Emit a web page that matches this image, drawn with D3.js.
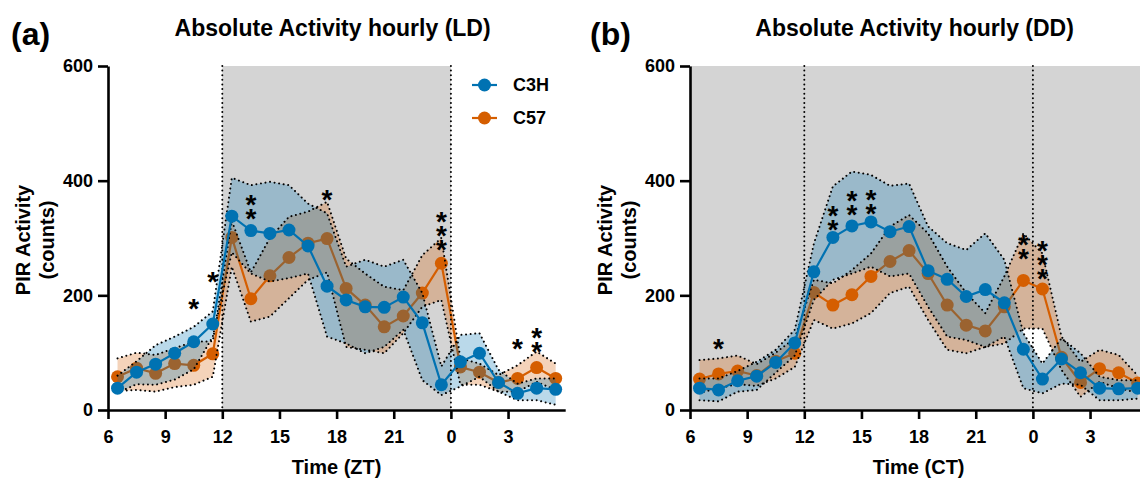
<!DOCTYPE html>
<html><head><meta charset="utf-8">
<script src="https://cdn.jsdelivr.net/npm/d3@7"></script>
<style>
body{margin:0;background:#fff}
svg text{font-family:"Liberation Sans",Arial,Helvetica,sans-serif;font-weight:bold;fill:#000}
</style>
</head><body>
<svg id="chart" width="1140" height="479"></svg>
<script>
// ---------------- data ----------------
const hours = [6.5,7.5,8.5,9.5,10.5,11.5,12.5,13.5,14.5,15.5,16.5,17.5,18.5,19.5,20.5,21.5,22.5,23.5,24.5,25.5,26.5,27.5,28.5,29.5];
const xTickValues = [6,9,12,15,18,21,24,27];
const xTickLabels = ["6","9","12","15","18","21","0","3"];
const yTickValues = [0,200,400,600];
const seriesNames = ["C3H","C57"];

// Panel (a) LD
const c3hLD   = [38,66,80,99,119,150,338,313,308,314,286,216,192,180,179,197,152,44,84,99,48,29,38,36];
const c3hLDlo = [30,45,44,53,71,128,275,238,224,230,238,128,116,99,110,140,52,26,41,58,32,17,17,9];
const c3hLDhi = [60,85,113,128,145,172,405,392,398,392,360,343,250,262,250,262,204,76,131,134,70,46,55,55];
const c57LD   = [58,73,64,81,78,98,301,194,234,266,291,299,212,183,145,164,204,256,75,66,48,55,74,55];
const c57LDlo = [33,35,32,40,44,58,250,154,163,195,227,240,110,105,99,134,180,192,44,44,32,32,49,35];
const c57LDhi = [90,100,96,108,119,120,330,240,300,337,346,363,264,238,215,209,270,300,90,81,61,78,102,81];

// Panel (b) DD
const c3hDD   = [38,35,51,59,83,117,241,301,321,328,311,320,243,228,198,210,187,106,54,89,65,38,37,38];
const c3hDDlo = [17,15,32,35,65,95,192,227,238,250,233,238,180,128,122,110,128,38,29,46,44,17,17,20];
const c3hDDhi = [55,55,68,84,105,140,290,390,416,410,391,395,320,291,279,308,262,134,81,125,99,58,52,52];
const c57DD   = [54,63,68,60,85,99,205,183,201,233,259,278,238,183,148,138,180,226,211,92,48,72,65,47];
const c57DDlo = [30,38,45,42,55,75,157,142,151,169,204,215,157,105,99,110,116,142,142,70,23,49,38,30];
const c57DDhi = [87,90,95,80,100,125,227,221,244,273,320,340,308,250,204,169,233,308,273,128,84,105,96,60];

// significance marks: hour, number of asterisks, value of lowest asterisk
const sigLDHours = [10.5,11.5,13.5,17.5,23.5,27.5,28.5];
const sigLDCount = [1,1,2,1,3,1,2];
const sigLDBase  = [187,235,344,377,290,117,113];
const sigDDHours = [7.5,13.5,14.5,15.5,23.5,24.5];
const sigDDCount = [1,2,2,2,2,3];
const sigDDBase  = [117,326,352,354,274,239];

// ---------------- drawing ----------------
const BLUE = "#0072B2", ORANGE = "#D55E00", GREY = "#d4d4d4";
const svg = d3.select("#chart");
const pxPerHour = 19.05;
const yBottom = 410, yTop = 66;

const panels = [
  {left:108, title:"Absolute Activity hourly (LD)", tag:"(a)", tagX:11, xLabel:"Time (ZT)",
   greyFrom:12, greyTo:24, legend:true, gapFill:false,
   c3h:c3hLD, c3hLo:c3hLDlo, c3hHi:c3hLDhi, c57:c57LD, c57Lo:c57LDlo, c57Hi:c57LDhi,
   sigH:sigLDHours, sigN:sigLDCount, sigB:sigLDBase},
  {left:690, title:"Absolute Activity hourly (DD)", tag:"(b)", tagX:590, xLabel:"Time (CT)",
   greyFrom:6, greyTo:30, legend:false, gapFill:true,
   c3h:c3hDD, c3hLo:c3hDDlo, c3hHi:c3hDDhi, c57:c57DD, c57Lo:c57DDlo, c57Hi:c57DDhi,
   sigH:sigDDHours, sigN:sigDDCount, sigB:sigDDBase}
];

// linear interpolation of a series at hour h
function interp(vals, h) {
  const i = Math.max(0, Math.min(hours.length - 2, Math.floor(h - hours[0])));
  const t = (h - hours[i]) / (hours[i+1] - hours[i]);
  return vals[i] + (vals[i+1] - vals[i]) * t;
}

panels.forEach(p => {
  const x = d3.scaleLinear().domain([6,30]).range([p.left, p.left + 24*pxPerHour]);
  const y = d3.scaleLinear().domain([0,600]).range([yBottom, yTop]);
  const g = svg.append("g");

  // grey (dark phase) background
  g.append("rect")
    .attr("x", x(p.greyFrom)).attr("y", y(600))
    .attr("width", x(p.greyTo) - x(p.greyFrom)).attr("height", y(0) - y(600))
    .attr("fill", GREY);

  // uncovered gap between the two bands (shown white in the DD panel)
  if (p.gapFill) {
    const fine = d3.range(hours[0], hours[hours.length-1] + 0.001, 0.02);
    g.append("path")
      .attr("d", d3.area().x(h=>x(h))
        .y0(h=>y(interp(p.c3hHi,h)))
        .y1(h=>y(Math.max(interp(p.c57Lo,h), interp(p.c3hHi,h))))(fine))
      .attr("fill", "#fff");
  }

  const area = (lo, hi) => d3.area().x((d,i)=>x(hours[i])).y0((d,i)=>y(lo[i])).y1((d,i)=>y(hi[i]))(hours);
  const line = vals => d3.line().x((d,i)=>x(hours[i])).y((d,i)=>y(vals[i]))(hours);
  const dotted = sel => sel.attr("fill","none").attr("stroke","#000").attr("stroke-width",2)
      .attr("stroke-linecap","round").attr("stroke-dasharray","0.01 4.6");

  // C57 band + series
  g.append("path").attr("d", area(p.c57Lo, p.c57Hi)).attr("fill", ORANGE).attr("fill-opacity", 0.27);
  g.append("path").attr("d", line(p.c57)).attr("fill","none").attr("stroke", ORANGE).attr("stroke-width", 2.2);
  g.selectAll(null).data(p.c57).enter().append("circle")
    .attr("cx",(d,i)=>x(hours[i])).attr("cy",d=>y(d)).attr("r",6.5).attr("fill",ORANGE);

  // C3H band
  g.append("path").attr("d", area(p.c3hLo, p.c3hHi)).attr("fill", BLUE).attr("fill-opacity", 0.27);

  // dotted outlines of both bands
  [p.c57Lo, p.c57Hi, p.c3hLo, p.c3hHi].forEach(arr => {
    g.append("path").attr("d", line(arr)).call(dotted);
  });

  // vertical dotted lines at 12 and 24
  [12,24].forEach(h => {
    g.append("line").attr("x1",x(h)).attr("x2",x(h)).attr("y1",y(600)).attr("y2",y(0)).call(dotted);
  });

  // C3H series
  g.append("path").attr("d", line(p.c3h)).attr("fill","none").attr("stroke", BLUE).attr("stroke-width", 2.2);
  g.selectAll(null).data(p.c3h).enter().append("circle")
    .attr("cx",(d,i)=>x(hours[i])).attr("cy",d=>y(d)).attr("r",6.5).attr("fill",BLUE);

  // significance asterisks (one text element per stack)
  p.sigH.forEach((h,i) => {
    const n = p.sigN[i];
    const t = g.append("text").attr("text-anchor","middle").attr("font-size", 28);
    for (let k = n - 1; k >= 0; k--) {
      t.append("tspan").attr("x", x(h)).attr("y", y(p.sigB[i]) - k*14 + 15.5).text("*");
    }
  });

  // axes
  const yAxis = d3.axisLeft(y).tickValues(yTickValues).tickSize(10).tickSizeOuter(0).tickPadding(5);
  const ya = g.append("g").attr("transform", `translate(${p.left},0)`).call(yAxis);
  const xAxis = d3.axisBottom(x).tickValues(xTickValues).tickFormat((d,i)=>xTickLabels[i])
      .tickSize(9).tickSizeOuter(0).tickPadding(11);
  const xa = g.append("g").attr("transform", `translate(0,${yBottom})`).call(xAxis);
  [ya, xa].forEach(a => {
    a.select(".domain").attr("stroke","#000").attr("stroke-width",2.6);
    a.selectAll(".tick line").attr("stroke","#000").attr("stroke-width",2.6);
    a.selectAll(".tick text").attr("font-size",18).attr("fill","#000")
      .style("font-family",'"Liberation Sans",Arial,sans-serif').style("font-weight","bold");
  });

  // titles
  g.append("text").attr("x", (x(6)+x(30))/2 - 4).attr("y", 36).attr("text-anchor","middle")
    .attr("font-size", 23).text(p.title);
  g.append("text").attr("x", p.tagX).attr("y", 45).attr("font-size", 32).text(p.tag);
  g.append("text").attr("x", (x(6)+x(30))/2).attr("y", 474).attr("text-anchor","middle")
    .attr("font-size", 20).text(p.xLabel);
  const yl = g.append("text").attr("transform", `translate(${p.left-78},240) rotate(-90)`)
    .attr("text-anchor","middle").attr("font-size", 20);
  yl.append("tspan").attr("x",0).attr("y",0).text("PIR Activity");
  yl.append("tspan").attr("x",0).attr("y",24).text("(counts)");

  // legend
  if (p.legend) {
    [BLUE, ORANGE].forEach((c,i) => {
      const ly = 85 + i*33;
      g.append("line").attr("x1",472).attr("x2",497).attr("y1",ly).attr("y2",ly).attr("stroke",c).attr("stroke-width",2.2);
      g.append("circle").attr("cx",484.5).attr("cy",ly).attr("r",6.5).attr("fill",c);
      g.append("text").attr("x",513).attr("y",ly).attr("dy","0.35em").attr("font-size",18).text(seriesNames[i]);
    });
  }
});
</script>
</body></html>
